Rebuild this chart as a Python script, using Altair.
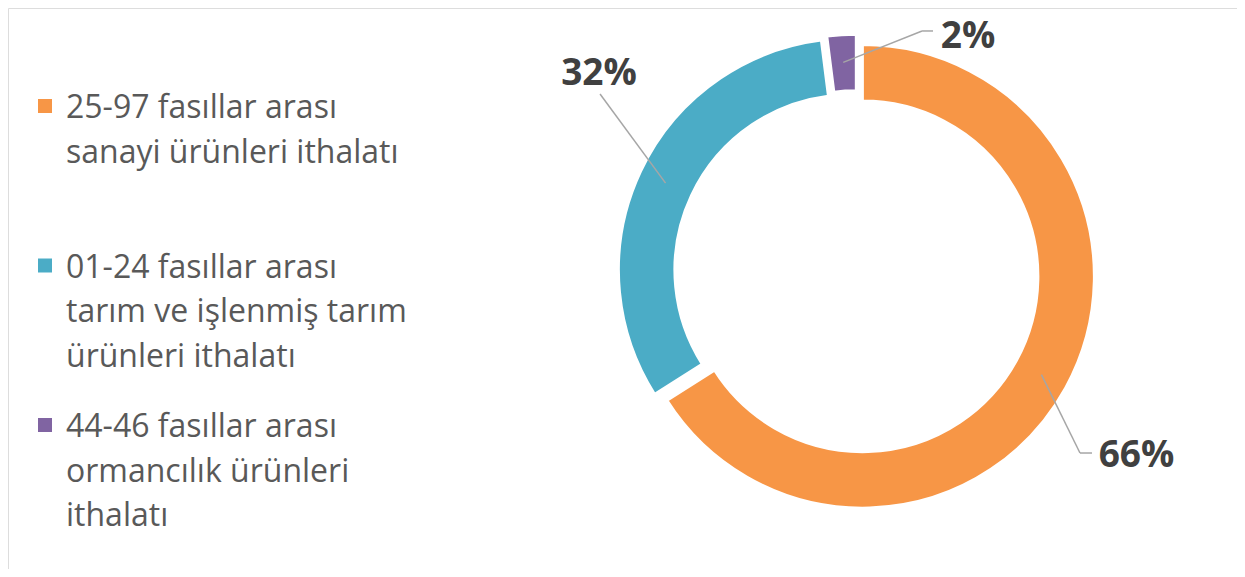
import math
import altair as alt
import pandas as pd

# ---------------- data ----------------
categories = [
    "25-97 fasıllar arası\nsanayi ürünleri ithalatı",
    "01-24 fasıllar arası\ntarım ve işlenmiş tarım\nürünleri ithalatı",
    "44-46 fasıllar arası\normancılık ürünleri\nithalatı",
]
shares = [66, 32, 2]
colors = ["#F79646", "#4BACC6", "#8064A2"]

df = pd.DataFrame({"category": categories, "share": shares})

# ---------------- layout / style ----------------
W, H = 1229, 561
CX, CY = 848.5, 265
EXPLODE = 7
R_OUT, R_IN = 231.5, 175.5
LEADER_R = 204
FONT = "Open Sans"
LEADER_COLOR = "#A6A6A6"

label_layout = [
    dict(r=334.5, shift=4.37, elbow=(-56.5, -3), tail=(-44.5, -3)),
    dict(r=325.7, shift=12.57, elbow=(1, 20.5), tail=None),
    dict(r=260.6, shift=28.94, elbow=(-46, -6.5), tail=(-35, -6.5)),
]

theta_scale = alt.Scale(domain=[0, 100], range=[0, 2 * math.pi])
color_scale = alt.Scale(domain=categories, range=colors)

base = (
    alt.Chart(df)
    .transform_window(cum="sum(share)", frame=[None, 0])
    .transform_calculate(start="datum.cum - datum.share")
    .transform_calculate(mid="datum.cum - datum.share / 2")
    .transform_calculate(ang="2 * PI * datum.mid / 100")
    .transform_calculate(ex=f"{CX} + {EXPLODE} * sin(datum.ang)")
    .transform_calculate(ey=f"{CY} - {EXPLODE} * cos(datum.ang)")
    .transform_calculate(sx=f"datum.ex + {LEADER_R} * sin(datum.ang)")
    .transform_calculate(sy=f"datum.ey - {LEADER_R} * cos(datum.ang)")
)

arcs = base.mark_arc(
    innerRadius=R_IN, outerRadius=R_OUT, stroke="white", strokeWidth=2.5
).encode(
    x=alt.X("ex:Q", scale=None, axis=None),
    y=alt.Y("ey:Q", scale=None, axis=None),
    theta=alt.Theta("start:Q", scale=theta_scale, stack=None),
    theta2="end:Q",
    color=alt.Color("category:N", scale=color_scale, legend=None),
)
arcs = arcs.transform_calculate(end="datum.cum")

layers = [arcs]

for cat, lay in zip(categories, label_layout):
    shift = math.radians(lay["shift"])
    lab = (
        base.transform_filter(alt.FieldEqualPredicate(field="category", equal=cat))
        .transform_calculate(la=f"datum.ang + {shift}")
        .transform_calculate(lx=f"{CX} + {lay['r']} * sin(datum.la)")
        .transform_calculate(ly=f"{CY} - {lay['r']} * cos(datum.la)")
        .transform_calculate(label="datum.share + '%'")
        .transform_calculate(kx=f"datum.lx + ({lay['elbow'][0]})")
        .transform_calculate(ky=f"datum.ly + ({lay['elbow'][1]})")
    )
    leader = lab.mark_rule(color=LEADER_COLOR, strokeWidth=1.5).encode(
        x=alt.X("sx:Q", scale=None, axis=None),
        y=alt.Y("sy:Q", scale=None, axis=None),
        x2="kx:Q",
        y2="ky:Q",
    )
    layers.append(leader)
    if lay["tail"] is not None:
        tail = (
            lab.transform_calculate(tx=f"datum.lx + ({lay['tail'][0]})")
            .transform_calculate(ty=f"datum.ly + ({lay['tail'][1]})")
            .mark_rule(color=LEADER_COLOR, strokeWidth=1.5)
            .encode(
                x=alt.X("kx:Q", scale=None, axis=None),
                y=alt.Y("ky:Q", scale=None, axis=None),
                x2="tx:Q",
                y2="ty:Q",
            )
        )
        layers.append(tail)
    text = lab.mark_text(
        font=FONT, fontSize=37, fontWeight="bold", color="#404040",
        align="center", baseline="middle",
    ).encode(
        x=alt.X("lx:Q", scale=None, axis=None),
        y=alt.Y("ly:Q", scale=None, axis=None),
        text="label:N",
    )
    layers.append(text)

# ---------------- manual legend ----------------
legend_y = alt.Y(
    "category:N",
    scale=alt.Scale(type="point", domain=categories, range=[110, 429], padding=0),
    axis=None,
)
leg_sq = alt.Chart(df).mark_square(size=196, opacity=1, yOffset=-12).encode(
    x=alt.value(37),
    y=legend_y,
    color=alt.Color("category:N", scale=color_scale, legend=None),
)
leg_txt = alt.Chart(df).mark_text(
    font=FONT, fontSize=32, color="#595959", align="left", baseline="alphabetic",
    lineBreak="\n", lineHeight=44.5,
).encode(
    x=alt.value(58),
    y=legend_y,
    text="category:N",
)
layers += [leg_sq, leg_txt]

chart = (
    alt.layer(*layers)
    .resolve_scale(x="independent", y="independent")
    .properties(width=W, height=H, autosize=alt.AutoSizeParams(type="none"), padding=0)
    .configure_view(stroke="#D9D9D9", strokeWidth=2)
    .configure(background="white")
)

chart.save("out.html", embed_options={"renderer": "svg", "actions": False})
